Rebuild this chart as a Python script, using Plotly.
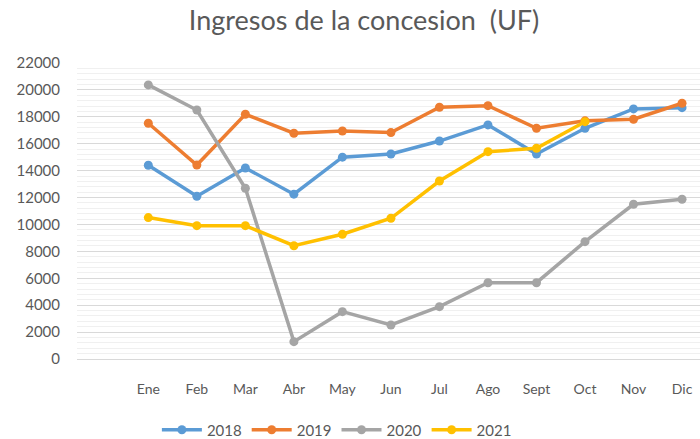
import plotly.graph_objects as go

months = ["Ene", "Feb", "Mar", "Abr", "May", "Jun", "Jul", "Ago", "Sept", "Oct", "Nov", "Dic"]
s2018 = [14400, 12100, 14200, 12250, 15000, 15240, 16200, 17400, 15240, 17150, 18590, 18680]
s2019 = [17520, 14420, 18190, 16780, 16950, 16830, 18710, 18830, 17150, 17700, 17820, 19010]
s2020 = [20370, 18510, 12690, 1290, 3520, 2530, 3890, 5670, 5670, 8720, 11500, 11870]
s2021 = [10510, 9910, 9910, 8420, 9270, 10460, 13230, 15410, 15660, 17640]
y_ticks = list(range(0, 22001, 2000))

series = [("2018", s2018, "#5B9BD5"), ("2019", s2019, "#ED7D31"),
          ("2020", s2020, "#A5A5A5"), ("2021", s2021, "#FFC000")]

fig = go.Figure()
for name, vals, col in series:
    fig.add_trace(go.Scatter(
        x=months[:len(vals)], y=vals, name=name, mode="lines+markers",
        line=dict(color=col, width=3.5), marker=dict(color=col, size=9),
    ))

font_fam = "Lato, 'Noto Sans', sans-serif"
fig.update_layout(
    width=700, height=439,
    margin=dict(l=77, r=0, t=63, b=80, autoexpand=False),
    paper_bgcolor="white", plot_bgcolor="white",
    font=dict(family=font_fam, color="#595959", size=14),
    title=dict(text="Ingresos de la concesion  (UF)", x=364/700, xanchor="center",
               y=1 - 21/439, yanchor="middle",
               font=dict(size=27, color="#595959", family=font_fam)),
    showlegend=True,
    legend=dict(orientation="h", x=292/700, xanchor="center",
                yref="container", y=1 - 430/439, yanchor="middle",
                font=dict(size=15, color="#595959"), itemwidth=40, tracegroupgap=0),
    xaxis=dict(type="category", categoryorder="array", categoryarray=months,
               range=[-1.47, 11.37], showgrid=False, zeroline=False, showline=False,
               ticks="outside", ticklen=17, tickcolor="rgba(0,0,0,0)",
               tickfont=dict(size=14, color="#595959")),
    yaxis=dict(range=[0, 22000], tickvals=y_ticks, ticktext=[str(v) for v in y_ticks],
               showgrid=True, gridcolor="#D9D9D9", gridwidth=1,
               zeroline=True, zerolinecolor="#D9D9D9", zerolinewidth=1,
               showline=False, ticks="outside", ticklen=13, tickcolor="rgba(0,0,0,0)",
               tickfont=dict(size=15, color="#595959"),
               minor=dict(dtick=400, showgrid=True, gridcolor="#F0F0F0", gridwidth=1)),
)

fig.write_html("out.html", config={"displayModeBar": False},
               post_script="document.body.style.margin='0';")
